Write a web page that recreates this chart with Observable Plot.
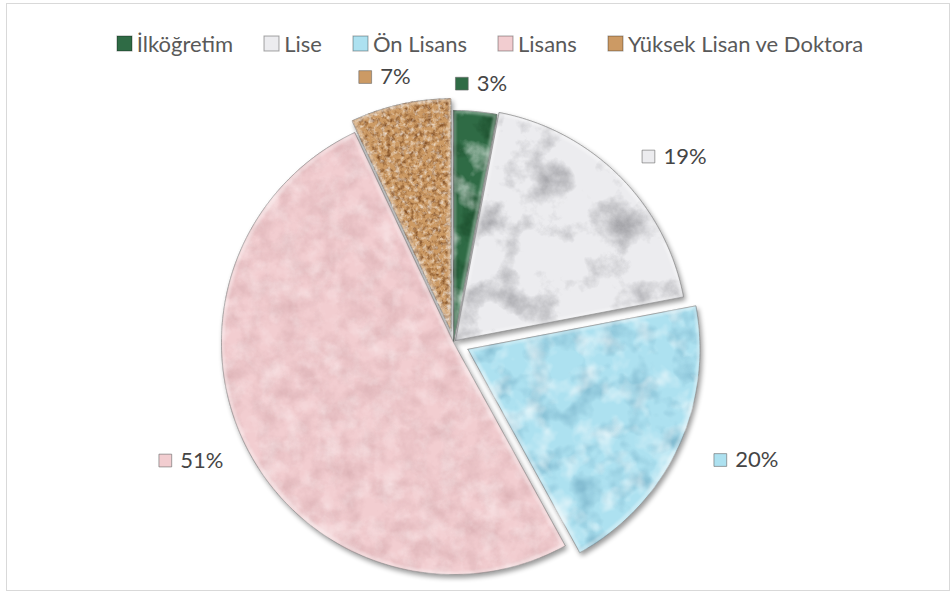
<!DOCTYPE html>
<html><head><meta charset="utf-8">
<script src="https://cdn.jsdelivr.net/npm/d3@7"></script>
<script src="https://cdn.jsdelivr.net/npm/@observablehq/plot@0.6"></script>
<style>
html,body{margin:0;padding:0;background:#fff;}
#wrap{position:relative;width:951px;height:592px;overflow:hidden;font-family:Lato,sans-serif;}
#chart{position:absolute;left:0;top:0;}
#frame{position:absolute;left:6px;top:3px;width:944px;height:588px;box-sizing:border-box;border:1.5px solid #d9d9d9;pointer-events:none;}
#legend{position:absolute;left:0;top:30px;width:980px;display:flex;justify-content:center;}
#legend .lg-swatches{font-family:Lato,sans-serif;font-size:22px;color:#595959;margin:0;min-height:26px;flex-wrap:nowrap;}
#legend .lg-swatch{margin-right:31px;}
#legend .lg-swatch:last-child{margin-right:0;}
#legend .lg-swatch > svg{margin-right:5px;}
#legend .lg-swatch rect{stroke:rgba(0,0,0,0.35);stroke-width:1px;}
</style>
</head><body>
<div id="wrap"><div id="chart"></div><div id="legend"></div><div id="frame"></div></div>
<script>
// ---- data ----
const categories = ["İlköğretim", "Lise", "Ön Lisans", "Lisans", "Yüksek Lisan ve Doktora"];
const shares = [3, 19, 20, 51, 7];
const shareLabels = ["3%", "19%", "20%", "51%", "7%"];
const colors = ["#2f6b45", "#ececef", "#ade1f0", "#f2cdd0", "#cc9a64"];

// ---- layout ----
const W = 951, H = 592, CX = 453, CY = 342, R = 232;
const explode = [0, 3, 16, 0, 12];

const total = d3.sum(shares);
let cum = 0;
const pts = [], lbl = [];
shares.forEach((v, i) => {
  const a0 = 2 * Math.PI * cum / total;
  cum += v;
  const a1 = 2 * Math.PI * cum / total;
  const mid = (a0 + a1) / 2;
  const ox = explode[i] * Math.sin(mid), oy = explode[i] * Math.cos(mid);
  const cat = categories[i];
  pts.push({cat, x: ox, y: oy});
  const n = Math.max(2, Math.ceil((a1 - a0) / (Math.PI / 180)));
  for (let k = 0; k <= n; k++) {
    const a = a0 + (a1 - a0) * k / n;
    pts.push({cat, x: ox + R * Math.sin(a), y: oy + R * Math.cos(a)});
  }
  pts.push({cat, x: ox, y: oy});
  const rr = R + explode[i] + 14;
  lbl.push({cat, label: shareLabels[i], x: (rr + 55) * Math.sin(mid), y: (rr + 14) * Math.cos(mid)});
});

const plot = Plot.plot({
  width: W, height: H, margin: 0,
  x: {domain: [-CX, W - CX], axis: null},
  y: {domain: [-(H - CY), CY], axis: null},
  color: {domain: categories, range: colors},
  marks: [
    Plot.line(pts, {x: "x", y: "y", z: "cat", fill: "cat", stroke: "#7a7a7a", strokeWidth: 1, strokeOpacity: 0.8, curve: "linear"}),
    Plot.dot(lbl, {x: "x", y: "y", symbol: "square", r: 7.2, fill: "cat", stroke: "#666", strokeWidth: 0.6, dx: -20}),
    Plot.text(lbl, {x: "x", y: "y", text: "label", textAnchor: "start", dx: -5, fontSize: 22, fill: "#454545", fontFamily: "Lato"})
  ]
});
document.getElementById("chart").appendChild(plot);

// textures (filters)
const tex = [
  {f: 0.035, o: 4, s: 3, dc: [0.05, 0.22, 0.1], da: 1.8, db: -0.85, la: 1.6, lb: -0.85},
  {f: 0.025, o: 5, s: 7, dc: [0.55, 0.55, 0.57], da: 2.0, db: -0.98, la: 0, lb: 0},
  {f: 0.04, o: 3, s: 11, dc: [0.25, 0.5, 0.62], da: 1.0, db: -0.45, la: 1.6, lb: -0.75},
  {f: 0.05, o: 4, s: 5, dc: [0.72, 0.52, 0.54], da: 0.6, db: -0.2, la: 0.8, lb: -0.35},
  {f: 0.22, o: 3, s: 9, dc: [0.48, 0.28, 0.12], da: 2.2, db: -0.95, la: 1.6, lb: -0.75}
];
let defs = `<defs>`;
tex.forEach((t, i) => {
  defs += `<filter id="tex${i}" x="-5%" y="-5%" width="115%" height="115%" color-interpolation-filters="sRGB">
    <feTurbulence type="fractalNoise" baseFrequency="${t.f}" numOctaves="${t.o}" seed="${t.s}" result="n"/>
    <feColorMatrix in="n" type="matrix" values="0 0 0 0 ${t.dc[0]}  0 0 0 0 ${t.dc[1]}  0 0 0 0 ${t.dc[2]}  ${t.da} 0 0 0 ${t.db}" result="dk"/>
    <feColorMatrix in="n" type="matrix" values="0 0 0 0 1  0 0 0 0 1  0 0 0 0 1  0 ${t.la} 0 0 ${t.lb}" result="lt"/>
    <feMerge result="ov"><feMergeNode in="dk"/><feMergeNode in="lt"/></feMerge>
    <feComposite in="ov" in2="SourceAlpha" operator="in" result="ovIn"/>
    <feComposite in="ovIn" in2="SourceGraphic" operator="over" result="tx"/>
    <feMorphology in="SourceAlpha" operator="erode" radius="3" result="er"/>
    <feComposite in="SourceAlpha" in2="er" operator="out" result="rim"/>
    <feGaussianBlur in="rim" stdDeviation="1" result="rimb"/>
    <feFlood flood-color="#ffffff" flood-opacity="0.35"/>
    <feComposite in2="rimb" operator="in" result="rimc"/>
    <feComposite in="rimc" in2="SourceAlpha" operator="in" result="rimIn"/>
    <feGaussianBlur in="SourceAlpha" stdDeviation="2.5" result="b"/>
    <feOffset in="b" dx="2" dy="3" result="o"/>
    <feComponentTransfer in="o" result="sh"><feFuncA type="linear" slope="0.4"/></feComponentTransfer>
    <feMerge><feMergeNode in="sh"/><feMergeNode in="tx"/><feMergeNode in="rimIn"/></feMerge>
  </filter>`;
});
defs += `</defs>`;
plot.insertAdjacentHTML("afterbegin", defs);
plot.querySelectorAll('g[aria-label="line"] path').forEach((p, i) => p.setAttribute("filter", `url(#tex${i})`));

// legend
const leg = Plot.legend({color: {type: "ordinal", domain: categories, range: colors}, legend: "swatches", swatchSize: 15, className: "lg"});
document.getElementById("legend").appendChild(leg);
</script>
</body></html>
